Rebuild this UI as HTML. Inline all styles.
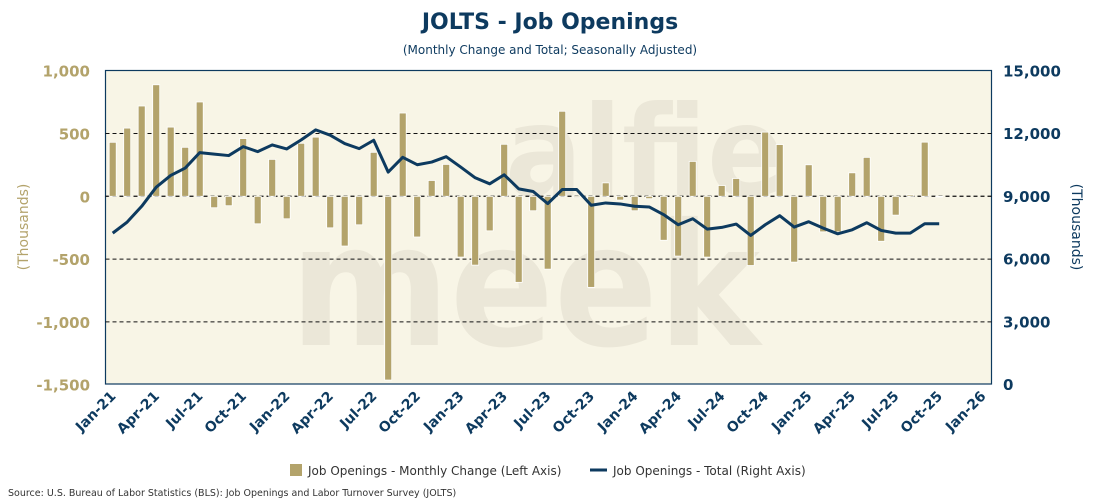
<!DOCTYPE html>
<html><head><meta charset="utf-8"><style>
body{margin:0;background:#fff;width:1100px;height:500px;overflow:hidden;font-family:Verdana,"DejaVu Sans",sans-serif}
</style></head><body>
<svg id="chart" width="1100" height="500" xmlns="http://www.w3.org/2000/svg">
<text x="550" y="29" text-anchor="middle" font-size="22" font-weight="bold" fill="#0d3a5f" font-family="Verdana,'DejaVu Sans',sans-serif">JOLTS - Job Openings</text>
<text x="550" y="54" text-anchor="middle" font-size="12" fill="#0d3a5f">(Monthly Change and Total; Seasonally Adjusted)</text>
<rect x="105.5" y="70.5" width="886" height="313.5" fill="#f8f5e6" stroke="#0d3a5f" stroke-width="1.2"/>
<g fill="#ebe7d8" font-weight="bold" font-family="'DejaVu Sans',sans-serif">
<text x="505" y="195" font-size="125" textLength="280" lengthAdjust="spacingAndGlyphs">alfie</text>
<text x="290" y="345" font-size="170" textLength="470" lengthAdjust="spacingAndGlyphs">meek</text>
</g>
<g id="grid"></g><g id="bars"></g><g id="line"></g><g id="axes"></g>
<text transform="translate(28,227) rotate(-90)" text-anchor="middle" font-size="14" fill="#b3a36b">(Thousands)</text>
<text transform="translate(1072,227) rotate(90)" text-anchor="middle" font-size="14" fill="#0d3a5f">(Thousands)</text>
<g>
<rect x="290" y="464" width="12" height="12" fill="#b3a36b"/>
<text x="308" y="475" font-size="12" fill="#333">Job Openings - Monthly Change (Left Axis)</text>
<line x1="590" y1="470" x2="607" y2="470" stroke="#0d3a5f" stroke-width="3"/>
<text x="613" y="475" font-size="12" fill="#333">Job Openings - Total (Right Axis)</text>
</g>
<text x="8" y="496" font-size="9.5" fill="#333">Source: U.S. Bureau of Labor Statistics (BLS): Job Openings and Labor Turnover Survey (JOLTS)</text>
</svg>
<script>
const changes=[430,543,719,888,551,390,751,-91,-75,460,-219,294,-179,422,471,-251,-396,-227,350,-1463,663,-324,126,254,-484,-548,-275,414,-685,-115,-580,677,-10,-725,107,-30,-115,-19,-350,-476,278,-484,86,142,-551,511,412,-524,251,-283,-283,187,310,-358,-150,11,431,-5];
const totals=[7219,7749,8503,9417,9979,10332,11070,11000,10930,11358,11118,11439,11246,11679,12160,11904,11503,11262,11663,10139,10845,10492,10620,10877,10380,9866,9578,10011,9337,9209,8631,9305,9305,8551,8663,8615,8503,8471,8102,7620,7909,7412,7492,7652,7107,7620,8053,7508,7765,7460,7187,7380,7717,7348,7219,7219,7668,7668];
const xLabels=["Jan-21","Apr-21","Jul-21","Oct-21","Jan-22","Apr-22","Jul-22","Oct-22","Jan-23","Apr-23","Jul-23","Oct-23","Jan-24","Apr-24","Jul-24","Oct-24","Jan-25","Apr-25","Jul-25","Oct-25","Jan-26"];
const leftTicks=[1000,500,0,-500,-1000,-1500];
const leftTickLabels=["1,000","500","0","-500","-1,000","-1,500"];
const rightTicks=[15000,12000,9000,6000,3000,0];
const rightTickLabels=["15,000","12,000","9,000","6,000","3,000","0"];
const NS="http://www.w3.org/2000/svg";
const x=i=>112.7+14.5*i;
const yL=v=>196.3-v*(125.6/1000);
const yR=v=>70.5+(15000-v)/15000*313.5;
function mk(tag,attrs,parent,txt){const e=document.createElementNS(NS,tag);for(const k in attrs)e.setAttribute(k,attrs[k]);if(txt!==undefined)e.textContent=txt;document.getElementById(parent).appendChild(e);return e;}
leftTicks.forEach((v,i)=>{
  if(v!==1000&&v!==-1500){const g=mk('line',{x1:105.5,x2:991.5,y1:yL(v),y2:yL(v),stroke:'#111','stroke-width':1,'stroke-dasharray':'4,3'},'grid');
  
  }
  const t=mk('text',{x:90,y:yL(v)+6,'text-anchor':'end','font-size':15,'font-weight':'bold',fill:'#b3a36b'},'axes',leftTickLabels[i]);
  
  
});
rightTicks.forEach((v,i)=>{
  const t=mk('text',{x:1003,y:yR(v)+6,'font-size':15,'font-weight':'bold',fill:'#0d3a5f'},'axes',rightTickLabels[i]);
  
  
});
xLabels.forEach((l,i)=>{
  const xx=x(i*3)+4;
  const t=mk('text',{transform:`translate(${xx},397) rotate(-45)`,'text-anchor':'end','font-size':14,'font-weight':'bold',fill:'#0d3a5f'},'axes',l);
  
  
});
changes.forEach((v,i)=>{
  const y0=yL(0),y1=yL(v);
  const b=mk('rect',{x:x(i)-3.5,y:Math.min(y0,y1),width:7,height:Math.max(Math.abs(y1-y0),0.5),fill:'#b3a36b',stroke:'#fff','stroke-width':0.8},'bars');
  
  
});
const zl=mk('line',{x1:105.5,x2:991.5,y1:yL(0),y2:yL(0),stroke:'#111','stroke-width':1,'stroke-dasharray':'4,3'},'grid');


const p=mk('polyline',{points:totals.map((v,i)=>x(i)+','+yR(v)).join(' '),fill:'none',stroke:'#0d3a5f','stroke-width':3,'stroke-linejoin':'round'},'line');


</script>
</body></html>
